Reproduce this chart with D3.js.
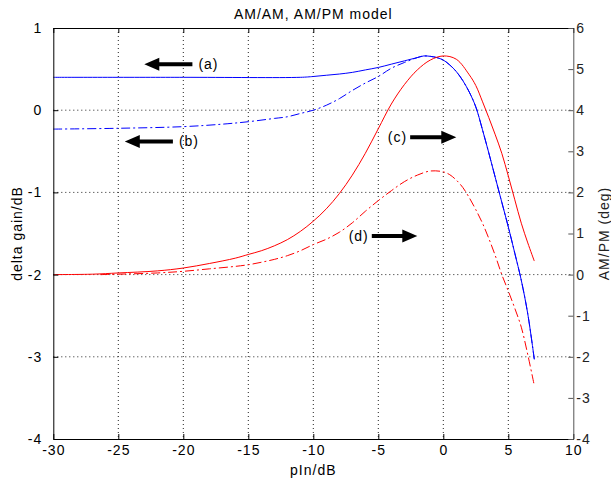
<!DOCTYPE html>
<html>
<head>
<meta charset="utf-8">
<script src="https://cdn.jsdelivr.net/npm/d3@7"></script>
<style>
  body { margin: 0; background: #fff; }
  svg { display: block; font-family: "Liberation Sans", Arial, sans-serif; }
  text { letter-spacing: 1px; }
</style>
</head>
<body>
<script>
// AM/AM (left, dB) and AM/PM (right, deg) versus input power
var xTicks = [-30, -25, -20, -15, -10, -5, 0, 5, 10];
var gainTicks = [-4, -3, -2, -1, 0, 1];
var phaseTicks = [-4, -3, -2, -1, 0, 1, 2, 3, 4, 5, 6];

var gainX = [-30, -20, -11, -10, -9, -8, -7, -6, -5, -4, -3, -2, -1.5, -1, -0.5, 0, 0.5, 1, 1.5, 2, 2.5, 3, 3.5, 4, 4.5, 5, 5.5, 6, 6.5, 7];
var gainA = [0.40, 0.40, 0.40, 0.41, 0.425, 0.44, 0.46, 0.49, 0.52, 0.56, 0.60, 0.64, 0.66, 0.655, 0.64, 0.61, 0.55, 0.47, 0.36, 0.22, 0.04, -0.23, -0.52, -0.82, -1.12, -1.42, -1.74, -2.07, -2.48, -3.03];

var gainBX = [-30, -25, -20, -17, -15, -13, -12, -11, -10, -9, -8, -7, -6, -5, -4, -3, -2, -1.5, -1, -0.5, 0, 0.5, 1, 1.5, 2, 2.5, 3, 3.5, 4, 4.5, 5, 5.5, 6, 6.5, 7];
var gainB = [-0.23, -0.22, -0.20, -0.17, -0.14, -0.10, -0.08, -0.04, 0.0, 0.06, 0.14, 0.24, 0.33, 0.41, 0.51, 0.58, 0.64, 0.66, 0.655, 0.64, 0.61, 0.55, 0.47, 0.36, 0.22, 0.04, -0.23, -0.52, -0.82, -1.12, -1.42, -1.74, -2.07, -2.48, -3.03];

var phaseCX = [-30, -27, -25, -22, -20, -18, -16, -15, -14, -13, -12, -11, -10, -9, -8, -7, -6, -5, -4, -3, -2, -1, 0, 1, 2, 2.5, 3, 3.5, 4, 4.5, 5, 5.5, 6, 6.5, 7];
var phaseC = [0, 0.01, 0.04, 0.09, 0.16, 0.27, 0.40, 0.49, 0.58, 0.70, 0.85, 1.05, 1.30, 1.60, 1.97, 2.42, 2.95, 3.55, 4.15, 4.62, 4.98, 5.22, 5.32, 5.24, 4.86, 4.6, 4.22, 3.82, 3.4, 2.95, 2.4, 1.82, 1.25, 0.77, 0.33];

var phaseDX = [-26.4, -25, -22, -20, -18, -16, -15, -14, -13, -12, -11, -10, -9, -8, -7, -6, -5, -4, -3, -2, -1, 0, 0.5, 1, 1.5, 2, 2.5, 3, 3.5, 4, 4.5, 5, 5.5, 6, 6.5, 7];
var phaseD = [0, 0.01, 0.04, 0.08, 0.14, 0.20, 0.24, 0.30, 0.37, 0.46, 0.58, 0.73, 0.86, 1.03, 1.26, 1.54, 1.80, 2.04, 2.26, 2.42, 2.52, 2.50, 2.43, 2.30, 2.12, 1.87, 1.58, 1.26, 0.88, 0.46, 0.0, -0.4, -0.82, -1.28, -1.95, -2.7];

// arrow notes in data units: tail x, head x, gain y, label
var notes = [
  {label: "(a)", from: -19.3, to: -23.0, y: 0.56, side: "right"},
  {label: "(b)", from: -20.8, to: -24.5, y: -0.38, side: "right"},
  {label: "(c)", from: -2.55, to: 1.0, y: -0.33, side: "left"},
  {label: "(d)", from: -5.5, to: -2.0, y: -1.53, side: "left"}
];

var width = 611, height = 481;
var padL = 53.3, padR = 573.3, padT = 28, padB = 439;

var svg = d3.select("body").append("svg")
  .attr("width", width).attr("height", height);

var x = d3.scaleLinear().domain([-30, 10]).range([padL, padR]);
var yGain = d3.scaleLinear().domain([-4, 1]).range([padB, padT]);
var yPhase = d3.scaleLinear().domain([-4, 6]).range([padB, padT]);

// dotted grid
svg.append("g").selectAll("line").data(xTicks.slice(1, -1)).enter()
  .append("line")
  .attr("x1", function(d) { return x(d); }).attr("x2", function(d) { return x(d); })
  .attr("y1", padT).attr("y2", padB)
  .attr("stroke", "#222").attr("stroke-width", 1).attr("stroke-dasharray", "1,3");
svg.append("g").selectAll("line").data(gainTicks.slice(1, -1)).enter()
  .append("line")
  .attr("x1", padL).attr("x2", padR)
  .attr("y1", function(d) { return yGain(d); }).attr("y2", function(d) { return yGain(d); })
  .attr("stroke", "#222").attr("stroke-width", 1).attr("stroke-dasharray", "1,3");

function series(xs, ys, yScale) {
  return xs.map(function(d, i) { return [x(d), yScale(ys[i])]; });
}
var line = d3.line().curve(d3.curveCatmullRom);

var curves = [
  {pts: series(gainBX, gainB, yGain), color: "#0000ff", dash: "9,3,2,3"},
  {pts: series(gainX, gainA, yGain), color: "#0000ff", dash: null},
  {pts: series(phaseDX, phaseD, yPhase), color: "#ff0000", dash: "9,3,2,3"},
  {pts: series(phaseCX, phaseC, yPhase), color: "#ff0000", dash: null}
];
svg.append("g").selectAll("path").data(curves).enter()
  .append("path")
  .attr("d", function(d) { return line(d.pts); })
  .attr("fill", "none")
  .attr("stroke", function(d) { return d.color; })
  .attr("stroke-width", 1)
  .attr("stroke-dasharray", function(d) { return d.dash; });

// axes
var fmt = function(d) { return String(d); };
var gLeft = svg.append("g").attr("transform", "translate(" + padL + ",0)")
  .call(d3.axisLeft(yGain).tickValues(gainTicks).tickFormat(fmt).tickSize(-5).tickSizeOuter(0).tickPadding(11));
var gBottom = svg.append("g").attr("transform", "translate(0," + padB + ")")
  .call(d3.axisBottom(x).tickValues(xTicks).tickFormat(fmt).tickSize(-5).tickSizeOuter(0).tickPadding(6));
var gTop = svg.append("g").attr("transform", "translate(0," + padT + ")")
  .call(d3.axisTop(x).tickValues(xTicks).tickFormat("").tickSize(-5).tickSizeOuter(0));
var gRight = svg.append("g").attr("transform", "translate(" + padR + ",0)")
  .call(d3.axisRight(yPhase).tickValues(phaseTicks).tickFormat(fmt).tickSize(-5).tickSizeOuter(0).tickPadding(3));

[gLeft, gBottom, gTop].forEach(function(g) {
  g.selectAll("path, line").attr("stroke", "#000");
  g.selectAll("text").attr("fill", "#000").attr("font-size", 14).attr("font-family", null);
});
gRight.selectAll("path, line").attr("stroke", "#555");
gRight.selectAll("text").attr("fill", "#222").attr("font-size", 14).attr("font-family", null);

// arrows and labels
var ann = svg.append("g").selectAll("g").data(notes).enter().append("g");
ann.append("path")
  .attr("d", function(d) {
    var x0 = x(d.from), x1 = x(d.to), y = yGain(d.y);
    var s = x1 > x0 ? 1 : -1;
    var hb = x1 - s * 15;
    return "M" + x0 + "," + (y - 2) + "L" + hb + "," + (y - 2) + "L" + hb + "," + (y - 6.5) +
      "L" + x1 + "," + y + "L" + hb + "," + (y + 6.5) + "L" + hb + "," + (y + 2) +
      "L" + x0 + "," + (y + 2) + "Z";
  })
  .attr("fill", "#000");
ann.append("text")
  .attr("x", function(d) { return d.side == "right" ? x(d.from) + 6 : x(d.from) - 3; })
  .attr("y", function(d) { return yGain(d.y); })
  .attr("dy", "0.35em")
  .attr("text-anchor", function(d) { return d.side == "right" ? "start" : "end"; })
  .attr("font-size", 14)
  .text(function(d) { return d.label; });

// titles
svg.append("text").attr("x", (padL + padR) / 2).attr("y", 18.5)
  .attr("text-anchor", "middle").attr("font-size", 14).text("AM/AM, AM/PM model");
svg.append("text").attr("x", (padL + padR) / 2).attr("y", 475)
  .attr("text-anchor", "middle").attr("font-size", 14).text("pIn/dB");
svg.append("text").attr("transform", "translate(17," + (padT + padB) / 2 + ") rotate(-90)")
  .attr("dy", "0.35em").attr("text-anchor", "middle").attr("font-size", 14).text("delta gain/dB");
svg.append("text").attr("transform", "translate(604," + (padT + padB) / 2 + ") rotate(-90)")
  .attr("dy", "0.35em").attr("text-anchor", "middle").attr("font-size", 14).attr("fill", "#222").text("AM/PM (deg)");
</script>
</body>
</html>
